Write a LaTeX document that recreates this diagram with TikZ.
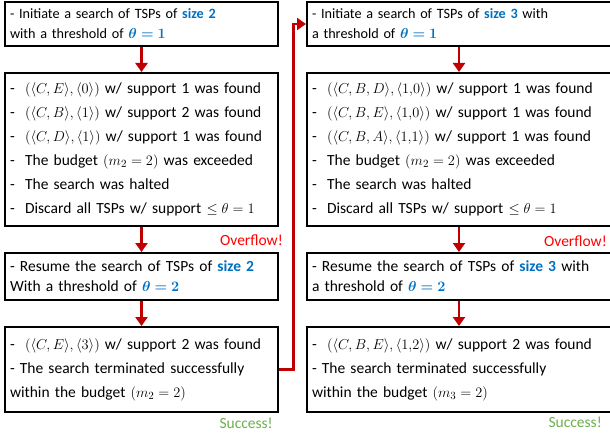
\documentclass[tikz,border=0pt]{standalone}
\usepackage{amsmath,bm}
\usepackage{fontspec}
\setmainfont{Carlito}
\usepackage{xcolor}
\definecolor{tspblue}{HTML}{0070C0}
\definecolor{tspred}{HTML}{C00000}
\definecolor{tspalert}{HTML}{FF0000}
\definecolor{tspgreen}{HTML}{6AB04C}
\usetikzlibrary{arrows.meta,calc}
\newcommand{\hlsize}[1]{\textcolor{tspblue}{\textbf{size #1}}}
\newcommand{\hltheta}[1]{\textcolor{tspblue}{$\bm{\theta = #1}$}}

\begin{document}
\begin{tikzpicture}[
  x=1pt, y=-1pt,
  font=\fontsize{14.2}{20}\selectfont,
  box/.style={draw, line width=2pt, align=left, anchor=north west,
              inner xsep=5pt, inner ysep=0pt},
  lbox/.style={box, text width=263pt, minimum width=273pt},
  rbox/.style={box, text width=294pt, minimum width=303pt},
  mid/.style={font=\fontsize{15.5}{20}\selectfont},
  tall/.style={font=\fontsize{15.5}{24}\selectfont},
  arr/.style={-{Triangle[length=9pt,width=12pt]}, line width=2.5pt, draw=tspred},
  ovf/.style={text=tspalert, anchor=east, inner sep=0pt, font=\fontsize{15.5}{18}\selectfont},
  suc/.style={ovf, text=tspgreen},
]
\useasboundingbox (0,0) rectangle (610,436);
% left column: size 2
\node[lbox, minimum height=44pt] (a1) at (4,1)
  {- Initiate a search of TSPs of \hlsize{2}\\with a threshold of \hltheta{1}};
\node[lbox, tall, minimum height=153pt] (a2) at (4,72)
  {- \ $(\langle C,E\rangle,\langle 0\rangle)$ w/ support 1 was found\\
   - \ $(\langle C,B\rangle,\langle 1\rangle)$ w/ support 2 was found\\
   - \ $(\langle C,D\rangle,\langle 1\rangle)$ w/ support 1 was found\\
   - \ The budget $(m_2 = 2)$ was exceeded\\
   - \ The search was halted\\
   - \ Discard all TSPs w/ support $\le \theta = 1$};
\node[lbox, mid, minimum height=47pt] (a3) at (4,252)
  {- Resume the search of TSPs of \hlsize{2}\\With a threshold of \hltheta{2}};
\node[lbox, tall, minimum height=85pt] (a4) at (4,326)
  {- \ $(\langle C,E\rangle,\langle 3\rangle)$ w/ support 2 was found\\
   - The search terminated successfully\\
   within the budget $(m_2 = 2)$};
% right column: size 3
\node[rbox, minimum height=44pt] (b1) at (306,1)
  {- Initiate a search of TSPs of \hlsize{3} with\\a threshold of \hltheta{1}};
\node[rbox, tall, minimum height=153pt] (b2) at (306,72)
  {- \ $(\langle C,B,D\rangle,\langle 1{,}0\rangle)$ w/ support 1 was found\\
   - \ $(\langle C,B,E\rangle,\langle 1{,}0\rangle)$ w/ support 1 was found\\
   - \ $(\langle C,B,A\rangle,\langle 1{,}1\rangle)$ w/ support 1 was found\\
   - \ The budget $(m_2 = 2)$ was exceeded\\
   - \ The search was halted\\
   - \ Discard all TSPs w/ support $\le \theta = 1$};
\node[rbox, mid, minimum height=47pt] (b3) at (306,252)
  {- Resume the search of TSPs of \hlsize{3} with\\a threshold of \hltheta{2}};
\node[rbox, tall, minimum height=85pt] (b4) at (306,326)
  {- \ $(\langle C,B,E\rangle,\langle 1{,}2\rangle)$ w/ support 2 was found\\
   - The search terminated successfully\\
   within the budget $(m_3 = 2)$};
% status labels
\node[ovf] (ova) at (283,240) {Overflow!};
\node[ovf] (ovb) at (607,241) {Overflow!};
\node[suc] (sca) at (273,423) {Success!};
\node[suc] (scb) at (602,422) {Success!};
% connectors
\draw[arr] (a1) -- (a2); \draw[arr] (a2) -- (a3); \draw[arr] (a3) -- (a4);
\draw[arr] (b1) -- (b2); \draw[arr] (b2) -- (b3); \draw[arr] (b3) -- (b4);
\draw[arr] (a4.east) -- ++(14.5,0) |- (b1.west);
\end{tikzpicture}
\end{document}
